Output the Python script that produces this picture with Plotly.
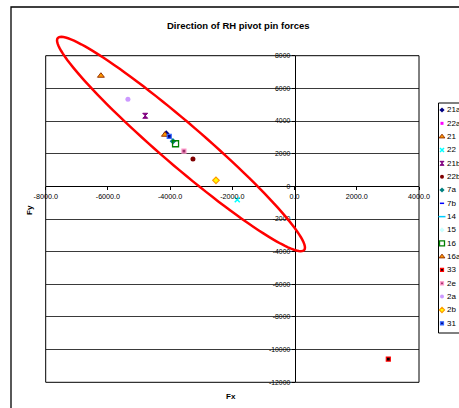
import math
import plotly.graph_objects as go

# ---- data: pivot pin force components per load case ----
series_names = ["21a", "22a", "21", "22", "21b", "22b", "7a", "7b", "14", "15",
                "16", "16a", "33", "2e", "2a", "2b", "31"]
fx_values = {
    "21a": [-4125], "22a": [], "21": [-4167], "22": [-1842], "21b": [-4801],
    "22b": [-3267], "7a": [-3910], "7b": [], "14": [], "15": [],
    "16": [-3826], "16a": [-6225], "33": [3013], "2e": [-3556], "2a": [-5357],
    "2b": [-2527], "31": [-4029],
}
fy_values = {
    "21a": [3230], "22a": [], "21": [3160], "22": [-820], "21b": [4323],
    "22b": [1672], "7a": [2756], "7b": [], "14": [], "15": [],
    "16": [2609], "16a": [6773], "33": [-10576], "2e": [2162], "2a": [5328],
    "2b": [367], "31": [3062],
}
x_tick_values = [-8000, -6000, -4000, -2000, 0, 2000, 4000]
x_tick_labels = ["-8000.0", "-6000.0", "-4000.0", "-2000.0", "0.0", "2000.0", "4000.0"]
y_tick_values = [8000, 6000, 4000, 2000, 0, -2000, -4000, -6000, -8000, -10000, -12000]
y_tick_labels = ["8000", "6000", "4000", "2000", "0", "-2000", "-4000", "-6000",
                 "-8000", "-10000", "-12000"]

# ---- marker styles per series ----
tri = dict(symbol="triangle-up", size=6, color="#FF9900", line=dict(color="#993300", width=1))
styles = {
    "21a": dict(symbol="diamond", size=5, color="#000080"),
    "22a": dict(symbol="square", size=4, color="#FF00FF"),
    "21": tri,
    "22": dict(symbol="x-thin", size=5, color="#00FFFF", line=dict(color="#00FFFF", width=1.5)),
    "21b": dict(symbol="hourglass", size=5, color="#800080", line=dict(color="#800080", width=1)),
    "22b": dict(symbol="circle", size=5, color="#800000"),
    "7a": dict(symbol="diamond", size=5, color="#008080"),
    "7b": dict(symbol="line-ew-open", size=4, color="#0000FF", line=dict(color="#0000FF", width=1.5)),
    "14": dict(symbol="line-ew-open", size=6, color="#00CCFF", line=dict(color="#00CCFF", width=1.5)),
    "15": dict(symbol="diamond", size=5, color="#CCFFFF"),
    "16": dict(symbol="square-open", size=6, color="#008000", line=dict(color="#008000", width=1.3)),
    "16a": tri,
    "33": dict(symbol="square", size=4, color="#000000", line=dict(color="#FF0000", width=1.2)),
    "2e": dict(symbol="square", size=4, color="#993366", line=dict(color="#FF99CC", width=1.2)),
    "2a": dict(symbol="circle", size=5, color="#CC99FF"),
    "2b": dict(symbol="diamond", size=5, color="#FFFF00", line=dict(color="#FF9900", width=1.2)),
    "31": dict(symbol="square", size=4, color="#000080", line=dict(color="#3366FF", width=1.2)),
}

W, H = 459, 408
FONT = "Liberation Sans, Arial, sans-serif"


def px(x):
    return x / W


def py(y):
    return 1 - y / H


# plot area in pixels
PL, PR, PT, PB = 45.7, 419.0, 55.7, 382.3
X_RANGE = [-8000, 4000]
Y_RANGE = [-12000, 8000]
x_dom = [px(PL), px(PR)]
y_dom = [py(PB), py(PT)]
# axes cross at the origin
x_axis_pos = y_dom[0] + (0 - Y_RANGE[0]) / (Y_RANGE[1] - Y_RANGE[0]) * (y_dom[1] - y_dom[0])
y_axis_pos = x_dom[0] + (0 - X_RANGE[0]) / (X_RANGE[1] - X_RANGE[0]) * (x_dom[1] - x_dom[0])

fig = go.Figure()

for name in series_names:
    fig.add_trace(go.Scatter(
        x=fx_values[name], y=fy_values[name], mode="markers", name=name,
        marker=styles[name], xaxis="x", yaxis="y", showlegend=False,
    ))

# legend drawn on a full-figure overlay in pixel units, with slightly smaller keys
LEG_X0, LEG_Y0, LEG_DY = 442.0, 110.0, 13.33
for i, name in enumerate(series_names):
    key = dict(styles[name])
    key["size"] = max(3, key["size"] - 1)
    fig.add_trace(go.Scatter(
        x=[LEG_X0], y=[LEG_Y0 + i * LEG_DY], mode="markers",
        marker=key, xaxis="x2", yaxis="y2", showlegend=False,
        hoverinfo="skip", cliponaxis=False,
    ))

annotations = [
    dict(text="<b>Direction of RH pivot pin forces</b>", x=px(238.5), y=py(25.5),
         xref="paper", yref="paper", showarrow=False, xanchor="center", yanchor="middle",
         font=dict(family=FONT, size=9.5, color="black")),
    dict(text="<b>Fx</b>", x=px(231), y=py(396), xref="paper", yref="paper",
         showarrow=False, xanchor="center", yanchor="middle",
         font=dict(family=FONT, size=8, color="black")),
    dict(text="<b>Fy</b>", x=px(30), y=py(210), xref="paper", yref="paper",
         showarrow=False, xanchor="center", yanchor="middle", textangle=-90,
         font=dict(family=FONT, size=8, color="black")),
]
for i, name in enumerate(series_names):
    annotations.append(dict(
        text=name, x=px(445), y=py(LEG_Y0 + i * LEG_DY), xref="paper", yref="paper",
        showarrow=False, xanchor="left", yanchor="middle",
        font=dict(family=FONT, size=8, color="black"),
    ))

# red ellipse outlining the main cluster (pixel geometry)
cx, cy, ea, eb, ang = 181.0, 144.0, 162.5, 21.0, math.radians(40.7)
pts = []
for k in range(121):
    t = 2 * math.pi * k / 120
    ex = cx + ea * math.cos(t) * math.cos(ang) - eb * math.sin(t) * math.sin(ang)
    ey = cy + ea * math.cos(t) * math.sin(ang) + eb * math.sin(t) * math.cos(ang)
    pts.append(f"{px(ex):.5f},{py(ey):.5f}")
ellipse_path = "M " + " L ".join(pts) + " Z"

shapes = [
    # chart border
    dict(type="rect", xref="paper", yref="paper", x0=px(11), x1=px(480), y0=py(430), y1=py(7),
         line=dict(color="black", width=1.3), layer="below"),
    # plot area border
    dict(type="rect", xref="x domain", yref="y domain", x0=0, x1=1, y0=0, y1=1,
         line=dict(color="black", width=1), layer="above"),
    # legend box
    dict(type="rect", xref="paper", yref="paper", x0=px(438.5), x1=px(480), y0=py(333), y1=py(103),
         line=dict(color="black", width=1), fillcolor="white", layer="below"),
    dict(type="path", xref="paper", yref="paper", path=ellipse_path,
         line=dict(color="#FF0000", width=2.5), layer="above"),
]

fig.update_layout(
    width=W, height=H,
    margin=dict(l=0, r=0, t=0, b=0, autoexpand=False),
    paper_bgcolor="white", plot_bgcolor="rgba(0,0,0,0)",
    showlegend=False,
    font=dict(family=FONT, color="black"),
    xaxis=dict(
        domain=x_dom, range=X_RANGE, anchor="free", position=x_axis_pos,
        tickvals=x_tick_values, ticktext=x_tick_labels,
        tickfont=dict(family=FONT, size=7.2, color="black"),
        showgrid=False, zeroline=False, showline=True, linecolor="black", linewidth=1,
        ticks="outside", ticklen=3, tickcolor="black", fixedrange=True,
    ),
    yaxis=dict(
        domain=y_dom, range=Y_RANGE, anchor="free", position=y_axis_pos,
        tickvals=y_tick_values, ticktext=y_tick_labels,
        tickfont=dict(family=FONT, size=6.8, color="black"),
        showgrid=True, gridcolor="#3a3a3a", gridwidth=1,
        zeroline=False, showline=True, linecolor="black", linewidth=1,
        ticks="outside", ticklen=3, tickcolor="black", fixedrange=True,
    ),
    xaxis2=dict(domain=[0, 1], range=[0, W], anchor="y2", visible=False, fixedrange=True),
    yaxis2=dict(domain=[0, 1], range=[H, 0], anchor="x2", visible=False, fixedrange=True),
    annotations=annotations,
    shapes=shapes,
)

fig.write_html("out.html")
